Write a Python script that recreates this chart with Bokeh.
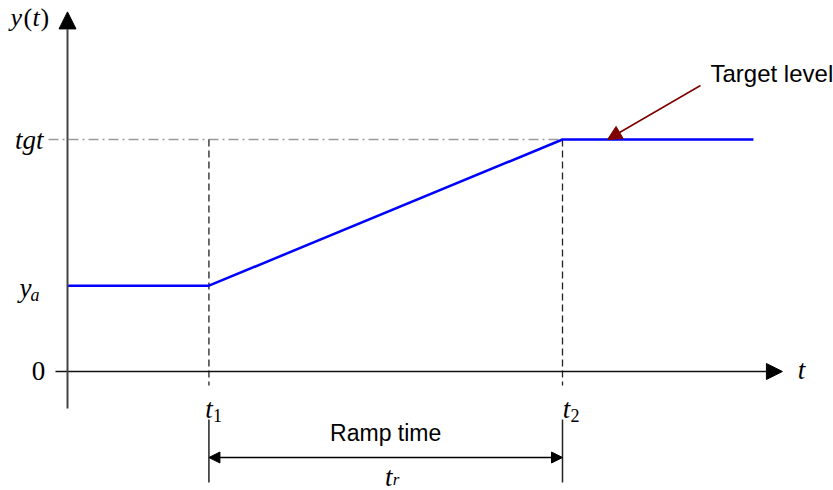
from bokeh.plotting import figure
from bokeh.models import Range1d, Arrow, NormalHead
from bokeh.core.properties import value
from bokeh.embed import file_html
from bokeh.resources import INLINE

# ---- data (schematic values) ----
t_pts = [0.0, 2.0, 7.0, 9.7]          # 0, t1, t2, end of plotted signal
y_pts = [0.37, 0.37, 1.0, 1.0]        # ya, ya, tgt, tgt
t1, t2 = 2.0, 7.0
ya, tgt = 0.37, 1.0
x_axis_end = 10.11
y_axis_top = 1.55

W, H = 833, 490
SX = 495 / 7.0      # px per time unit
SY = 232.0          # px per level unit
x0 = -67 / SX
y0 = -119 / SY

p = figure(width=W, height=H, output_backend="svg", toolbar_location=None,
           x_range=Range1d(x0, x0 + W / SX), y_range=Range1d(y0, y0 + H / SY),
           min_border=0)
p.axis.visible = False
p.grid.visible = False
p.outline_line_color = None
p.background_fill_color = "white"

def dx(px):
    return px / SX

def dy(px):
    return px / SY

serif = value("Liberation Serif")
sans = value("Liberation Sans")

# reference dash-dot at target level
p.line([dx(-19), t2], [tgt, tgt], line_color="#9a9a9a", line_width=1.3, line_dash="10 4 2 4")

# dashed verticals at t1, t2
for tv in (t1, t2):
    p.line([tv, tv], [tgt, dy(-14)], line_color="#222222", line_width=1.3, line_dash="7 4")
    p.line([tv, tv], [dy(-48), dy(-111)], line_color="#222222", line_width=1.5)

# axes
p.add_layout(Arrow(end=NormalHead(size=16, fill_color="black", line_color="black"),
                   x_start=dx(-12), y_start=0, x_end=x_axis_end, y_end=0,
                   line_color="#111111", line_width=1.5))
p.add_layout(Arrow(end=NormalHead(size=17, fill_color="black", line_color="black"),
                   x_start=0, y_start=dy(-37), x_end=0, y_end=y_axis_top,
                   line_color="#444444", line_width=2))

# signal
p.line(t_pts, y_pts, line_color="#0000ff", line_width=2.5)

# ramp time arrow
p.add_layout(Arrow(start=NormalHead(size=11, fill_color="black", line_color="black"),
                   end=NormalHead(size=11, fill_color="black", line_color="black"),
                   x_start=t1, y_start=dy(-86), x_end=t2, y_end=dy(-86),
                   line_color="black", line_width=1.3))

# target level annotation arrow
p.add_layout(Arrow(end=NormalHead(size=14, fill_color="#7f0000", line_color="#7f0000"),
                   x_start=dx(633), y_start=tgt + dy(54), x_end=dx(540), y_end=tgt,
                   line_color="#7f0000", line_width=1.5))

def txt(x, y, s, size, font=serif, style="italic", align="center", xo=0, yo=0):
    p.text(x=[x], y=[y], text=[s], text_font=font, text_font_size=f"{size}px",
           text_font_style=style, text_align=align, text_baseline="middle",
           text_color="black", x_offset=xo, y_offset=yo)

# y(t)
txt(0, y_axis_top, "y", 26, align="left", xo=-57, yo=6)
txt(0, y_axis_top, "(", 26, style="normal", align="left", xo=-44, yo=6)
txt(0, y_axis_top, "t", 26, align="left", xo=-35, yo=6)
txt(0, y_axis_top, ")", 26, style="normal", align="left", xo=-27, yo=6)

# tgt
txt(0, tgt, "tgt", 27, align="right", xo=-24, yo=0)
# ya
txt(0, ya, "y", 27, align="right", xo=-36, yo=2)
txt(0, ya, "a", 18, align="left", xo=-37, yo=9)
# 0
txt(0, 0, "0", 27, style="normal", align="center", xo=-29, yo=-1)
# t axis label
txt(x_axis_end, 0, "t", 27, align="center", xo=19, yo=-2)
# t1, t2
txt(t1, 0, "t", 27, align="center", xo=0, yo=37)
txt(t1, 0, "1", 18, style="normal", align="left", xo=4, yo=44)
txt(t2, 0, "t", 27, align="center", xo=4, yo=37)
txt(t2, 0, "2", 18, style="normal", align="left", xo=8, yo=44)
# tr
txt((t1 + t2) / 2, dy(-86), "t", 27, align="center", xo=3, yo=19)
txt((t1 + t2) / 2, dy(-86), "r", 17, align="left", xo=7, yo=22)

# Ramp time
txt((t1 + t2) / 2, dy(-86), "Ramp time", 23, font=sans, style="normal", align="center", xo=0, yo=-25)
# Target level
txt(dx(643), tgt + dy(66), "Target level", 24, font=sans, style="normal", align="left")

open("out.html", "w").write(file_html(p, INLINE))
